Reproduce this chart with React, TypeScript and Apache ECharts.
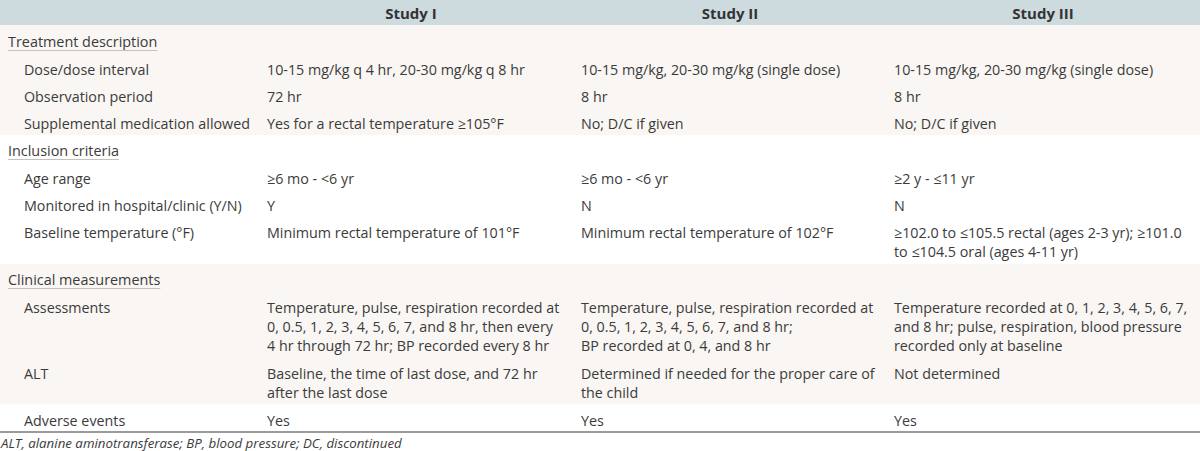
import React, { useEffect, useRef } from "react";
import * as echarts from "echarts";

const headers = ["Study I", "Study II", "Study III"];
const sections = ["Treatment description", "Inclusion criteria", "Clinical measurements"];
const rowLabels = [
  "Dose/dose interval",
  "Observation period",
  "Supplemental medication allowed",
  "Age range",
  "Monitored in hospital/clinic (Y/N)",
  "Baseline temperature (°F)",
  "Assessments",
  "ALT",
  "Adverse events",
];
const studyI = [
  "10-15 mg/kg q 4 hr, 20-30 mg/kg q 8 hr",
  "72 hr",
  "Yes for a rectal temperature ≥105°F",
  "≥6 mo - <6 yr",
  "Y",
  "Minimum rectal temperature of 101°F",
  "Temperature, pulse, respiration recorded at\n0, 0.5, 1, 2, 3, 4, 5, 6, 7, and 8 hr, then every\n4 hr through 72 hr; BP recorded every 8 hr",
  "Baseline, the time of last dose, and 72 hr\nafter the last dose",
  "Yes",
];
const studyII = [
  "10-15 mg/kg, 20-30 mg/kg (single dose)",
  "8 hr",
  "No; D/C if given",
  "≥6 mo - <6 yr",
  "N",
  "Minimum rectal temperature of 102°F",
  "Temperature, pulse, respiration recorded at\n0, 0.5, 1, 2, 3, 4, 5, 6, 7, and 8 hr;\nBP recorded at 0, 4, and 8 hr",
  "Determined if needed for the proper care of\nthe child",
  "Yes",
];
const studyIII = [
  "10-15 mg/kg, 20-30 mg/kg (single dose)",
  "8 hr",
  "No; D/C if given",
  "≥2 y - ≤11 yr",
  "N",
  "≥102.0 to ≤105.5 rectal (ages 2-3 yr); ≥101.0\nto ≤104.5 oral (ages 4-11 yr)",
  "Temperature recorded at 0, 1, 2, 3, 4, 5, 6, 7,\nand 8 hr; pulse, respiration, blood pressure\nrecorded only at baseline",
  "Not determined",
  "Yes",
];
const footnote = "ALT, alanine aminotransferase; BP, blood pressure; DC, discontinued";

// layout
const W = 1200;
const FONT = "'Open Sans', 'Noto Sans', sans-serif";
const FS = 14.3;
const LH = 19;
const TEXT = "#3b3b3b";
const HEADER_BG = "#cddade";
const SEC_BG = "#f9f6f3";
const headerCenters = [411, 730, 1043];
const colX = [24, 267, 581, 894];
const sectionTextY = [41, 150, 279];
const rowTopY = [69, 96, 123, 178, 205, 232, 307, 373, 420];
const bands = [
  { y: 25, h: 110, fill: SEC_BG },
  { y: 135, h: 129, fill: "#ffffff" },
  { y: 264, h: 140, fill: SEC_BG },
  { y: 404, h: 28, fill: "#ffffff" },
];

function measure(text: string, font: string): number {
  const c = document.createElement("canvas").getContext("2d");
  if (!c) return text.length * 7;
  c.font = font;
  return c.measureText(text).width;
}

export default function App() {
  const ref = useRef<HTMLDivElement>(null);
  useEffect(() => {
    if (!ref.current) return;
    const chart = echarts.init(ref.current, undefined, { renderer: "svg" });
    const els: any[] = [];
    els.push({ type: "rect", shape: { x: 0, y: 0, width: W, height: 25 }, style: { fill: HEADER_BG }, silent: true });
    bands.forEach((b) =>
      els.push({ type: "rect", shape: { x: 0, y: b.y, width: W, height: b.h }, style: { fill: b.fill }, silent: true })
    );
    headers.forEach((h, i) =>
      els.push({
        type: "text",
        x: headerCenters[i],
        y: 13,
        style: { text: h, font: `bold 15px ${FONT}`, fill: "#333", align: "center", verticalAlign: "middle" },
      })
    );
    const secFont = `14.4px ${FONT}`;
    sections.forEach((s, i) => {
      const w = measure(s, secFont);
      els.push({
        type: "text",
        x: 8,
        y: sectionTextY[i],
        style: { text: s, font: secFont, fill: TEXT, align: "left", verticalAlign: "middle" },
      });
      els.push({
        type: "line",
        shape: { x1: 8, y1: sectionTextY[i] + 9.5, x2: 8 + w, y2: sectionTextY[i] + 9.5 },
        style: { stroke: "#c9c0b8", lineWidth: 1 },
      });
    });
    const cols = [rowLabels, studyI, studyII, studyIII];
    rowLabels.forEach((_, r) => {
      cols.forEach((col, c) => {
        els.push({
          type: "text",
          x: colX[c],
          y: rowTopY[r] - LH / 2,
          style: {
            text: col[r],
            font: `${FS}px ${FONT}`,
            fill: TEXT,
            align: "left",
            verticalAlign: "top",
            lineHeight: LH,
          },
        });
      });
    });
    els.push({
      type: "line",
      shape: { x1: 0, y1: 432, x2: W, y2: 432 },
      style: { stroke: "#7a7a7a", lineWidth: 1.5 },
    });
    els.push({
      type: "text",
      x: 1,
      y: 443,
      style: { text: footnote, font: `italic 13.3px ${FONT}`, fill: TEXT, align: "left", verticalAlign: "middle" },
    });
    chart.setOption({ animation: false, graphic: { elements: els } });
    return () => chart.dispose();
  }, []);
  return <div ref={ref} style={{ position: "fixed", left: 0, top: 0, width: 1200, height: 451, background: "#fff" }} />;
}
